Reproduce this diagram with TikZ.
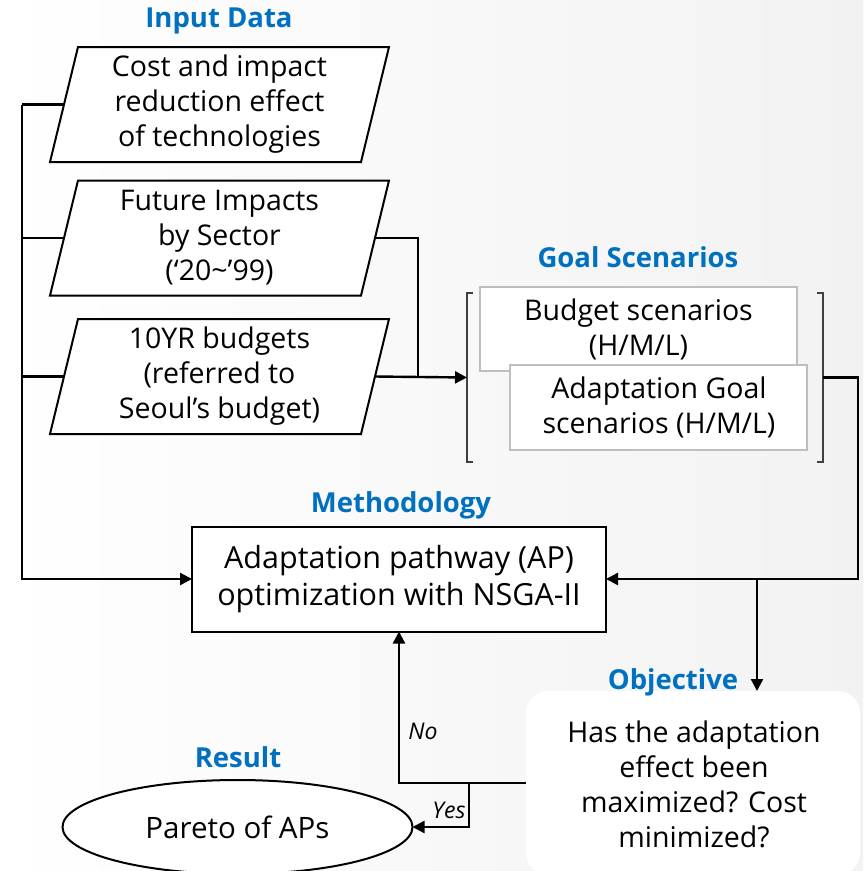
\documentclass[tikz,border=0pt]{standalone}
\usepackage{fontspec}
\setmainfont{Open Sans}
\usetikzlibrary{shapes.geometric,arrows.meta}
\definecolor{headblue}{RGB}{0,112,192}
\definecolor{bgright}{RGB}{242,242,242}
\definecolor{softgray}{RGB}{190,190,190}
\begin{document}
\begin{tikzpicture}[x=1pt,y=-1pt,
  every node/.style={inner sep=0pt, outer sep=0pt},
  body/.style={font=\fontsize{28.5}{35}\selectfont, align=center},
  heading/.style={font=\fontsize{27.5}{32}\selectfont\bfseries, text=headblue},
  inbox/.style={minimum width=311pt, minimum height=115pt},
  scenbox/.style={draw=softgray, line width=1.6pt, fill=white},
  conn/.style={line width=2.4pt, line join=miter},
  arr/.style={conn, -{Triangle[length=12pt,width=12pt]}},
  lbl/.style={font=\fontsize{23}{26}\selectfont\itshape}
]
\useasboundingbox (0,0) rectangle (863,871);
\clip (0,0) rectangle (863,871);
% background
\shade[left color=white, right color=bgright] (0,0) rectangle (863,871);

% input data parallelograms
\node[inbox] (c1) at (219.5,104.5) {};
\node[inbox] (c2) at (219.5,238) {};
\node[inbox] (c3) at (219.5,376.5) {};
\foreach \n in {c1,c2,c3}{
  \draw[line width=2pt, fill=white]
    ([xshift=14pt]\n.north west) -- ([xshift=14pt]\n.north east)
    -- ([xshift=-14pt]\n.south east) -- ([xshift=-14pt]\n.south west) -- cycle;
}
\node[body] at (c1) {Cost and impact\\reduction effect\\of technologies};
\node[body] at (c2) {Future Impacts\\by Sector\\(‘20\textasciitilde’99)};
\node[body] at (c3) {10YR budgets\\(referred to\\Seoul’s budget)};

% goal scenarios group
\node[minimum width=356pt, minimum height=169pt] (gs) at (645,377.5) {};
\draw[line width=1.3pt, black!75]
  ([xshift=6pt]gs.north west) -- (gs.north west) -- (gs.south west) -- ([xshift=6pt]gs.south west);
\draw[line width=1.3pt, black!75]
  ([xshift=-6pt]gs.north east) -- (gs.north east) -- (gs.south east) -- ([xshift=-6pt]gs.south east);
\node[scenbox, minimum width=317pt, minimum height=84pt] (bud) at (638.5,329) {};
\node[body] at (638.5,329) {Budget scenarios\\(H/M/L)};
\node[scenbox, minimum width=297pt, minimum height=85pt] (ada) at (658.5,407.5) {};
\node[body] at (659,407.5) {Adaptation Goal\\scenarios (H/M/L)};

% methodology
\node[draw, line width=2pt, fill=white, minimum width=414pt, minimum height=105pt,
      font=\fontsize{30.5}{37}\selectfont, align=center] (meth) at (399,579)
  {Adaptation pathway (AP)\\optimization with NSGA-II};

% objective
\node[fill=white, rounded corners=22pt, minimum width=334pt, minimum height=184pt] (obj) at (693,783) {};
\node[body] at (694,784) {Has the adaptation\\effect been\\maximized? Cost\\minimized?};

% result
\node[draw, ellipse, line width=2pt, fill=white, minimum width=350pt, minimum height=94pt,
      font=\fontsize{29.5}{34}\selectfont] (par) at (237.5,827) {Pareto of APs};

% headings
\node[heading] (hin)  at (219,21)  {Input Data};
\node[heading] (hgs)  at (638,257) {Goal Scenarios};
\node[heading] (hme)  at (401,505) {Methodology};
\node[heading] (hob)  at (673,682) {Objective};
\node[heading] (hre)  at (238,757) {Result};

% connectors: inputs to methodology
\coordinate (lbus) at (22,104.5);
\draw[conn] (c1.west) -- (lbus);
\draw[conn] (c2.west) -- (c2.west -| lbus);
\draw[conn] (c3.west) -- (c3.west -| lbus);
\draw[arr] (lbus) -- (lbus |- meth.west) -- (meth.west);

% inputs to goal scenarios
\coordinate (rbus) at (418,238);
\draw[conn] (c2.east) -- (rbus) -- (rbus |- c3.east);
\draw[arr] (c3.east) -- (gs.west);

% goal scenarios to methodology
\coordinate (rdrop) at (858,377.5);
\draw[arr] (gs.east) -- (rdrop) |- (meth.east);

% methodology to objective
\coordinate (split) at (757,579);
\draw[arr] (split) -- (split |- obj.north);

% decision branches
\draw[arr] (obj.west) -| (meth.south);
\coordinate (ysplit) at (469,783);
\draw[arr] (ysplit) |- (par.east);
\node[lbl] (no)  at (423,731) {No};
\node[lbl] (yes) at (449,810) {Yes};
\end{tikzpicture}
\end{document}
